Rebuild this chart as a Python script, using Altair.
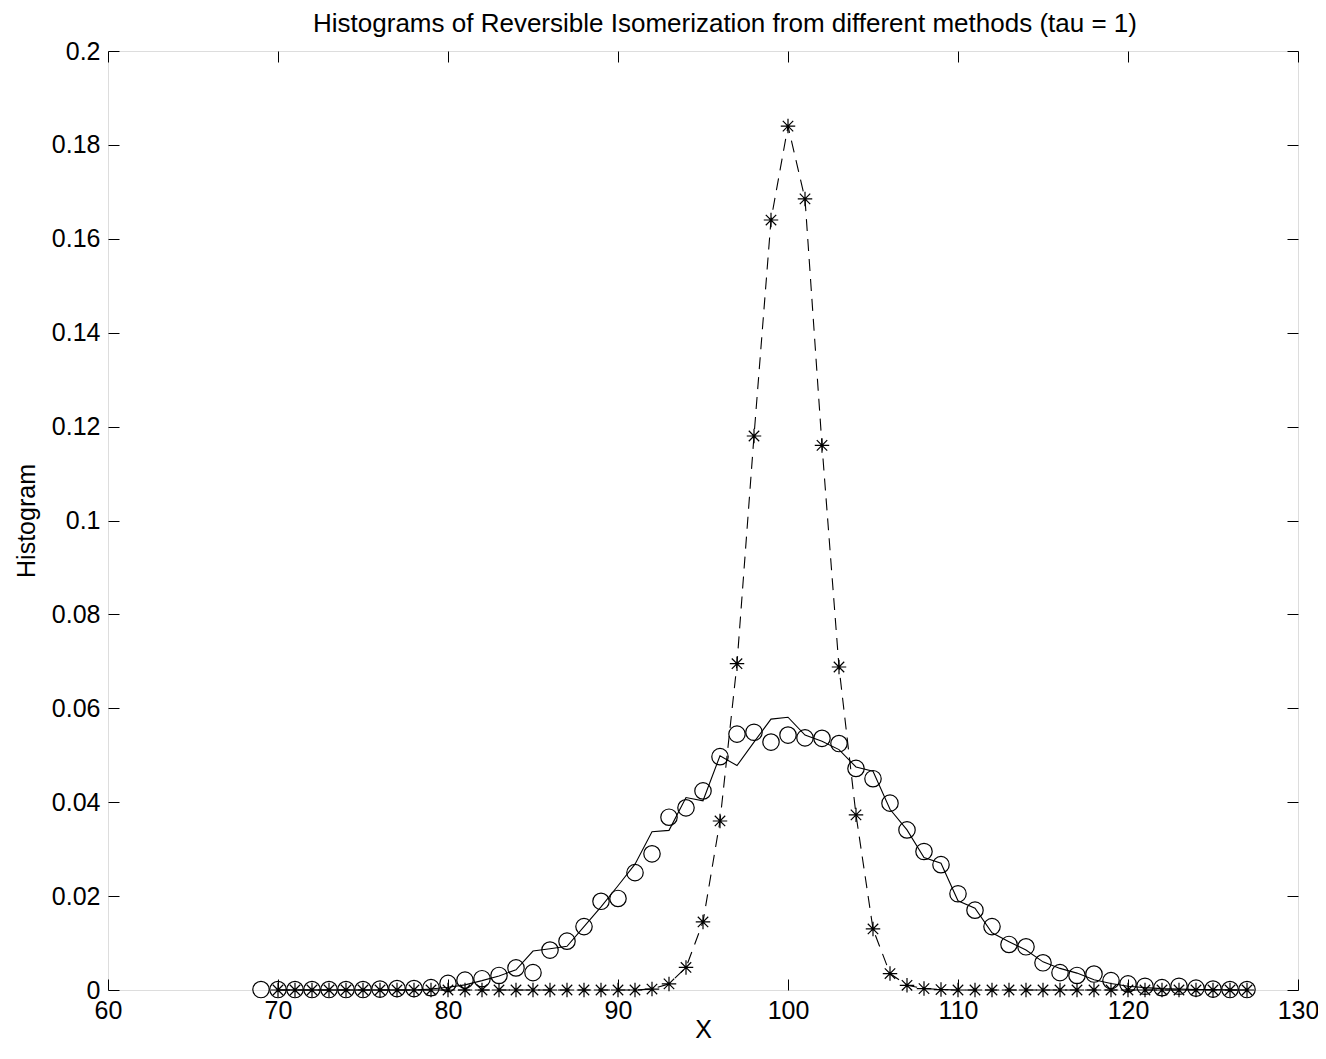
import altair as alt
import pandas as pd

# ---------------- data ----------------
x_circ = list(range(69, 128))
circ_vals = [
    0.0001, 0.0001, 0.0001, 0.0001, 0.0001, 0.0001, 0.0001, 0.0002, 0.0003, 0.0003,  # 69-78
    0.0005, 0.0014, 0.0021, 0.0024, 0.0031, 0.0047, 0.0037, 0.0085, 0.0104, 0.0135,  # 79-88
    0.0189, 0.0195, 0.0250, 0.0290, 0.0368, 0.0388, 0.0424, 0.0497, 0.0545, 0.0549,  # 89-98
    0.0528, 0.0543, 0.0537, 0.0536, 0.0525, 0.0472, 0.0450, 0.0398, 0.0341, 0.0295,  # 99-108
    0.0267, 0.0205, 0.0170, 0.0135, 0.0097, 0.0092, 0.0058, 0.0037, 0.0031, 0.0034,  # 109-118
    0.0020, 0.0013, 0.0008, 0.0005, 0.0008, 0.0004, 0.0002, 0.0001, 0.0001,          # 119-127
]

x_line = list(range(70, 128))
solid_vals = [
    0.0, 0.0, 0.0, 0.0, 0.0, 0.0, 0.0, 0.0, 0.0,                                      # 70-78
    0.0002, 0.0006, 0.0011, 0.0020, 0.0030, 0.0043, 0.0083, 0.0088, 0.0093, 0.0135,  # 79-88
    0.0177, 0.0222, 0.0268, 0.0337, 0.0340, 0.0410, 0.0403, 0.0499, 0.0478, 0.0528,  # 89-98
    0.0577, 0.0581, 0.0543, 0.0530, 0.0512, 0.0475, 0.0466, 0.0385, 0.0341, 0.0282,  # 99-108
    0.0270, 0.0190, 0.0174, 0.0122, 0.0103, 0.0085, 0.0060, 0.0046, 0.0036, 0.0022,  # 109-118
    0.0014, 0.0008, 0.0005, 0.0003, 0.0002, 0.0001, 0.0001, 0.0, 0.0,                # 119-127
]
star_vals = [
    0.0, 0.0, 0.0, 0.0, 0.0, 0.0, 0.0, 0.0, 0.0,                                      # 70-78
    0.0, 0.0, 0.0, 0.0, 0.0, 0.0, 0.0, 0.0, 0.0, 0.0,                                # 79-88
    0.0, 0.0, 0.0, 0.0002, 0.0013, 0.0048, 0.0145, 0.0360, 0.0695, 0.1180,           # 89-98
    0.1640, 0.1840, 0.1685, 0.1160, 0.0688, 0.0373, 0.0130, 0.0035, 0.0010, 0.0003,  # 99-108
    0.0001, 0.0, 0.0, 0.0, 0.0, 0.0, 0.0, 0.0, 0.0, 0.0,                             # 109-118
    0.0, 0.0, 0.0, 0.0, 0.0, 0.0, 0.0, 0.0, 0.0,                                      # 119-127
]

x_ticks = [60, 70, 80, 90, 100, 110, 120, 130]
y_ticks = [0, 0.02, 0.04, 0.06, 0.08, 0.1, 0.12, 0.14, 0.16, 0.18, 0.2]

TITLE = "Histograms of Reversible Isomerization from different methods (tau = 1)"
X_TITLE = "X"
Y_TITLE = "Histogram"

df_c = pd.DataFrame({"x": x_circ, "y": circ_vals})
df_s = pd.DataFrame({"x": x_line, "y": solid_vals})
df_t = pd.DataFrame({"x": x_line, "y": star_vals})

# ---------------- styling ----------------
W, H = 1190, 939
FONT = "Liberation Sans"
FS = 25
TICK = 11

xscale = alt.Scale(domain=[60, 130], nice=False, zero=False)
yscale = alt.Scale(domain=[0, 0.2], nice=False, zero=False)

common = dict(grid=False, domain=False, tickColor="black", tickWidth=1)

ax_x_main = alt.Axis(orient="bottom", values=x_ticks, format="d", tickSize=0,
                     labelFont=FONT, labelFontSize=FS, labelColor="black",
                     labelPadding=8, labelFlush=False,
                     title=X_TITLE, titleFont=FONT, titleFontSize=FS,
                     titleFontWeight="normal", titleColor="black", titlePadding=-6,
                     **common)
ax_x_in_bottom = alt.Axis(orient="top", offset=-H, values=x_ticks, labels=False,
                          tickSize=TICK, title="", **common)
ax_x_in_top = alt.Axis(orient="bottom", offset=-H, values=x_ticks, labels=False,
                       tickSize=TICK, title="", **common)

ax_y_main = alt.Axis(orient="left", values=y_ticks, format=".2~f", tickSize=0,
                     labelFont=FONT, labelFontSize=FS, labelColor="black",
                     labelPadding=8, labelFlush=False,
                     title=Y_TITLE, titleFont=FONT, titleFontSize=FS,
                     titleFontWeight="normal", titleColor="black", titlePadding=12,
                     **common)
ax_y_in_left = alt.Axis(orient="right", offset=-W, values=y_ticks, labels=False,
                        tickSize=TICK, title="", **common)
ax_y_in_right = alt.Axis(orient="left", offset=-W, values=y_ticks, labels=False,
                         tickSize=TICK, title="", **common)

STAR = "M-1,0L1,0M0,-1L0,1M-0.72,-0.72L0.72,0.72M-0.72,0.72L0.72,-0.72"

solid_line = alt.Chart(df_s).mark_line(color="black", strokeWidth=1.1).encode(
    x=alt.X("x:Q", scale=xscale, axis=ax_x_main),
    y=alt.Y("y:Q", scale=yscale, axis=ax_y_main),
)
dashed_line = alt.Chart(df_t).mark_line(color="black", strokeWidth=1.1,
                                        strokeDash=[12, 8]).encode(
    x=alt.X("x:Q", scale=xscale, axis=ax_x_in_bottom),
    y=alt.Y("y:Q", scale=yscale, axis=ax_y_in_left),
)
circles = alt.Chart(df_c).mark_point(shape="circle", filled=False, color="black",
                                     strokeWidth=1.2, size=270, opacity=1).encode(
    x=alt.X("x:Q", scale=xscale, axis=ax_x_in_top),
    y=alt.Y("y:Q", scale=yscale, axis=ax_y_in_right),
)
stars = alt.Chart(df_t).mark_point(shape=STAR, filled=False, color="black",
                                   strokeWidth=1.2, size=210, opacity=1).encode(
    x=alt.X("x:Q", scale=xscale, axis=None),
    y=alt.Y("y:Q", scale=yscale, axis=None),
)

chart = alt.layer(solid_line, dashed_line, circles, stars).resolve_axis(
    x="independent", y="independent"
).properties(
    width=W,
    height=H,
    padding={"left": 100, "top": 43, "right": 20, "bottom": 61},
    autosize=alt.AutoSizeParams(type="none"),
    title=alt.TitleParams(TITLE, font=FONT, fontSize=26, fontWeight="normal",
                          color="black", anchor="middle", baseline="alphabetic",
                          offset=8, dx=22, dy=27),
).configure_view(
    stroke="black", strokeWidth=1
).configure(background="white")

chart.save("out.html", embed_options={"renderer": "svg", "actions": False})
